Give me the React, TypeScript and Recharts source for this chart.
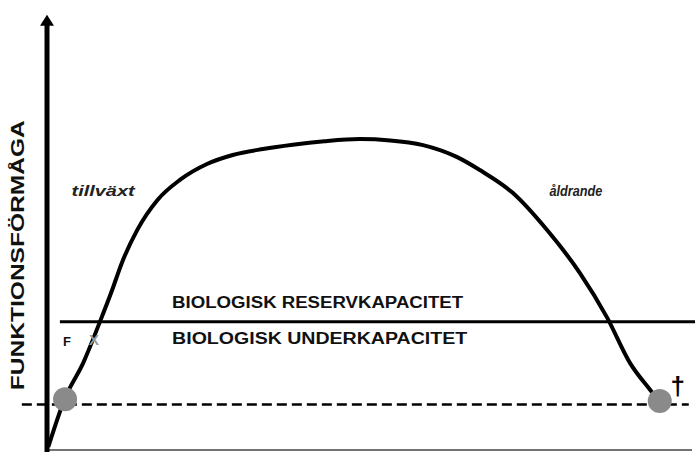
import { ComposedChart, Line, XAxis, YAxis, ReferenceLine, ReferenceDot } from "recharts";

// life course: age (0-100 % of lifespan) vs functional capacity
const age = [0.2, 2.8, 5.6, 8.2, 10.1, 11.6, 14.0, 17.1, 20.6, 24.8, 28.8, 33.5, 38.1, 43.0, 48.5, 53.2, 58.3, 63.6, 67.1, 72.2, 77.5, 82.6, 86.8, 90.4, 93.5, 95.0];
const capacity = [0.7, 12.1, 20.2, 29.8, 37.2, 43.5, 51.2, 58.1, 62.8, 66.5, 68.6, 70.0, 71.0, 71.8, 72.3, 72.0, 70.9, 68.1, 65.1, 59.8, 51.2, 41.2, 30.9, 20.2, 14.0, 11.2];

const reserveLevel = 29.8;
const criticalLevel = 10.6;
const birth = { x: 2.8, y: 11.8 };
const death = { x: 95, y: 11.4 };

const yLabel = "FUNKTIONSFÖRMÅGA";
const growthLabel = "tillväxt";
const agingLabel = "åldrande";
const reserveLabel = "BIOLOGISK RESERVKAPACITET";
const underLabel = "BIOLOGISK UNDERKAPACITET";

const data = age.map((a, i) => ({ age: a, capacity: capacity[i] }));

const FONT = "'Liberation Sans', Arial, sans-serif";

function textAt(text: string, opts: any) {
  const { angle, ...rest } = opts;
  return (p: any) => (
    <text
      x={p.cx}
      y={p.cy}
      fontFamily={FONT}
      fontWeight={700}
      dominantBaseline="central"
      {...rest}
      transform={angle ? `rotate(${angle}, ${p.cx}, ${p.cy})` : undefined}
    >
      {text}
    </text>
  );
}

const arrowHead = (p: any) => (
  <path d={`M${p.cx},${p.cy} L${p.cx - 7},${p.cy + 11} L${p.cx + 7},${p.cy + 11} Z`} fill="#000" />
);

export default function App() {
  return (
    <div style={{ position: "absolute", left: 0, top: 0, background: "#fff" }}>
      <ComposedChart
        width={695}
        height={452}
        data={data}
        margin={{ top: 20, right: 3, bottom: 2, left: 47 }}
      >
        <XAxis type="number" dataKey="age" domain={[0, 100]} hide />
        <YAxis type="number" domain={[0, 100]} hide />

        {/* axes */}
        <ReferenceLine segment={[{ x: 0, y: 0 }, { x: 100, y: 0 }]} stroke="#444" strokeWidth={1.5} ifOverflow="visible" />
        <ReferenceLine segment={[{ x: 0, y: -1 }, { x: 0, y: 99 }]} stroke="#000" strokeWidth={5} ifOverflow="visible" />
        <ReferenceDot x={0} y={101.2} ifOverflow="visible" shape={arrowHead} />

        <ReferenceLine segment={[{ x: 2, y: reserveLevel }, { x: 101, y: reserveLevel }]} stroke="#000" strokeWidth={3} ifOverflow="visible" />
        <ReferenceLine segment={[{ x: -3.9, y: criticalLevel }, { x: 99.5, y: criticalLevel }]} stroke="#000" strokeWidth={2.5} strokeDasharray="10 5" ifOverflow="visible" />

        <Line
          type="monotone"
          dataKey="capacity"
          stroke="#000"
          strokeWidth={4}
          dot={false}
          isAnimationActive={false}
        />

        <ReferenceDot x={birth.x} y={birth.y} r={12} fill="#8a8a8a" stroke="none" ifOverflow="visible" />
        <ReferenceDot x={death.x} y={death.y} r={12} fill="#8a8a8a" stroke="none" ifOverflow="visible" />

        <ReferenceDot x={-4.5} y={45.3} ifOverflow="visible"
          shape={textAt(yLabel, { fontSize: 19, textAnchor: "middle", angle: -90, textLength: 270, lengthAdjust: "spacingAndGlyphs", fill: "#111" })} />
        <ReferenceDot x={8.7} y={60.2} ifOverflow="visible"
          shape={textAt(growthLabel, { fontSize: 14, fontStyle: "italic", textAnchor: "middle", textLength: 63, lengthAdjust: "spacingAndGlyphs", fill: "#222" })} />
        <ReferenceDot x={82.0} y={60.2} ifOverflow="visible"
          shape={textAt(agingLabel, { fontSize: 14, fontStyle: "italic", textAnchor: "middle", textLength: 53, lengthAdjust: "spacingAndGlyphs", fill: "#222" })} />
        <ReferenceDot x={19.4} y={34.2} ifOverflow="visible"
          shape={textAt(reserveLabel, { fontSize: 16, textLength: 291, lengthAdjust: "spacingAndGlyphs", fill: "#111" })} />
        <ReferenceDot x={19.4} y={26.0} ifOverflow="visible"
          shape={textAt(underLabel, { fontSize: 16, textLength: 295, lengthAdjust: "spacingAndGlyphs", fill: "#111" })} />
        <ReferenceDot x={3.1} y={25.3} ifOverflow="visible"
          shape={textAt("F", { fontSize: 13, textAnchor: "middle", fill: "#111" })} />
        <ReferenceDot x={7.3} y={25.8} ifOverflow="visible"
          shape={textAt("X", { fontSize: 15, textAnchor: "middle", fill: "#999" })} />
        <ReferenceDot x={97.8} y={14.9} ifOverflow="visible"
          shape={textAt("†", { fontSize: 26, textAnchor: "middle", fill: "#000" })} />
      </ComposedChart>
    </div>
  );
}
